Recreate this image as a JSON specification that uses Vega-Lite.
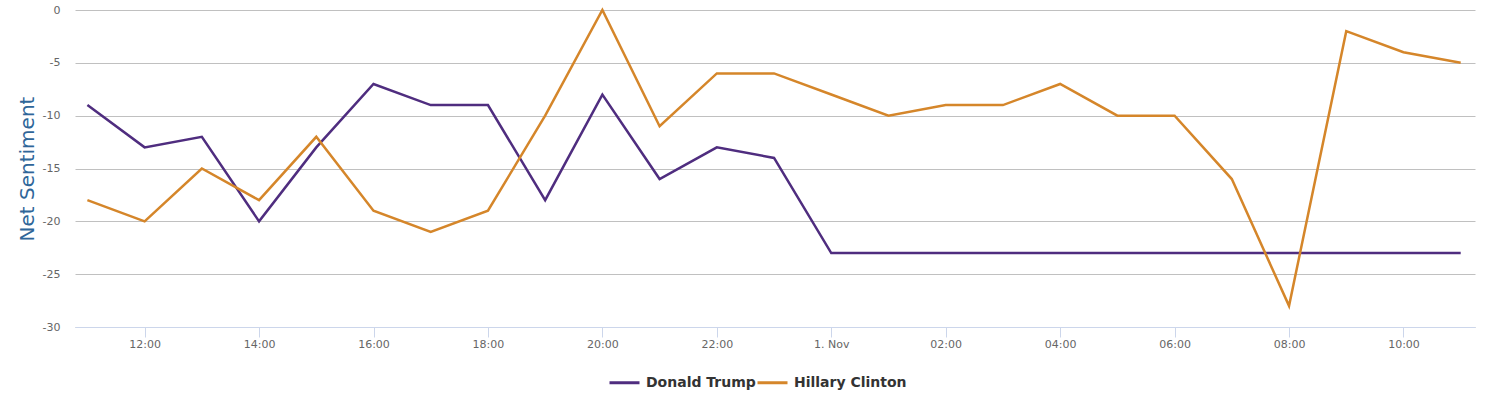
{
  "$schema": "https://vega.github.io/schema/vega-lite/v6.json",
  "autosize": "none",
  "width": 1400,
  "height": 317,
  "padding": {"left": 75, "top": 10, "right": 10, "bottom": 73},
  "background": "white",
  "data": {
    "values": [
      {"time": "2016-10-31T11:00:00", "series": "Donald Trump", "value": -9},
      {"time": "2016-10-31T12:00:00", "series": "Donald Trump", "value": -13},
      {"time": "2016-10-31T13:00:00", "series": "Donald Trump", "value": -12},
      {"time": "2016-10-31T14:00:00", "series": "Donald Trump", "value": -20},
      {"time": "2016-10-31T15:00:00", "series": "Donald Trump", "value": -13},
      {"time": "2016-10-31T16:00:00", "series": "Donald Trump", "value": -7},
      {"time": "2016-10-31T17:00:00", "series": "Donald Trump", "value": -9},
      {"time": "2016-10-31T18:00:00", "series": "Donald Trump", "value": -9},
      {"time": "2016-10-31T19:00:00", "series": "Donald Trump", "value": -18},
      {"time": "2016-10-31T20:00:00", "series": "Donald Trump", "value": -8},
      {"time": "2016-10-31T21:00:00", "series": "Donald Trump", "value": -16},
      {"time": "2016-10-31T22:00:00", "series": "Donald Trump", "value": -13},
      {"time": "2016-10-31T23:00:00", "series": "Donald Trump", "value": -14},
      {"time": "2016-11-01T00:00:00", "series": "Donald Trump", "value": -23},
      {"time": "2016-11-01T01:00:00", "series": "Donald Trump", "value": -23},
      {"time": "2016-11-01T02:00:00", "series": "Donald Trump", "value": -23},
      {"time": "2016-11-01T03:00:00", "series": "Donald Trump", "value": -23},
      {"time": "2016-11-01T04:00:00", "series": "Donald Trump", "value": -23},
      {"time": "2016-11-01T05:00:00", "series": "Donald Trump", "value": -23},
      {"time": "2016-11-01T06:00:00", "series": "Donald Trump", "value": -23},
      {"time": "2016-11-01T07:00:00", "series": "Donald Trump", "value": -23},
      {"time": "2016-11-01T08:00:00", "series": "Donald Trump", "value": -23},
      {"time": "2016-11-01T09:00:00", "series": "Donald Trump", "value": -23},
      {"time": "2016-11-01T10:00:00", "series": "Donald Trump", "value": -23},
      {"time": "2016-11-01T11:00:00", "series": "Donald Trump", "value": -23},
      {"time": "2016-10-31T11:00:00", "series": "Hillary Clinton", "value": -18},
      {"time": "2016-10-31T12:00:00", "series": "Hillary Clinton", "value": -20},
      {"time": "2016-10-31T13:00:00", "series": "Hillary Clinton", "value": -15},
      {"time": "2016-10-31T14:00:00", "series": "Hillary Clinton", "value": -18},
      {"time": "2016-10-31T15:00:00", "series": "Hillary Clinton", "value": -12},
      {"time": "2016-10-31T16:00:00", "series": "Hillary Clinton", "value": -19},
      {"time": "2016-10-31T17:00:00", "series": "Hillary Clinton", "value": -21},
      {"time": "2016-10-31T18:00:00", "series": "Hillary Clinton", "value": -19},
      {"time": "2016-10-31T19:00:00", "series": "Hillary Clinton", "value": -10},
      {"time": "2016-10-31T20:00:00", "series": "Hillary Clinton", "value": 0},
      {"time": "2016-10-31T21:00:00", "series": "Hillary Clinton", "value": -11},
      {"time": "2016-10-31T22:00:00", "series": "Hillary Clinton", "value": -6},
      {"time": "2016-10-31T23:00:00", "series": "Hillary Clinton", "value": -6},
      {"time": "2016-11-01T00:00:00", "series": "Hillary Clinton", "value": -8},
      {"time": "2016-11-01T01:00:00", "series": "Hillary Clinton", "value": -10},
      {"time": "2016-11-01T02:00:00", "series": "Hillary Clinton", "value": -9},
      {"time": "2016-11-01T03:00:00", "series": "Hillary Clinton", "value": -9},
      {"time": "2016-11-01T04:00:00", "series": "Hillary Clinton", "value": -7},
      {"time": "2016-11-01T05:00:00", "series": "Hillary Clinton", "value": -10},
      {"time": "2016-11-01T06:00:00", "series": "Hillary Clinton", "value": -10},
      {"time": "2016-11-01T07:00:00", "series": "Hillary Clinton", "value": -16},
      {"time": "2016-11-01T08:00:00", "series": "Hillary Clinton", "value": -28},
      {"time": "2016-11-01T09:00:00", "series": "Hillary Clinton", "value": -2},
      {"time": "2016-11-01T10:00:00", "series": "Hillary Clinton", "value": -4},
      {"time": "2016-11-01T11:00:00", "series": "Hillary Clinton", "value": -5}
    ]
  },
  "mark": {"type": "line", "strokeWidth": 2.5},
  "encoding": {
    "x": {
      "field": "time",
      "type": "temporal",
      "scale": {"domain": [{"year": 2016, "month": 10, "date": 31, "hours": 10, "minutes": 47}, {"year": 2016, "month": 11, "date": 1, "hours": 11, "minutes": 15}]},
      "axis": {
        "title": null,
        "format": "%H:%M",
        "labelExpr": "hours(datum.value) == 0 ? '1. Nov' : datum.label",
        "values": [
          {"year": 2016, "month": 10, "date": 31, "hours": 12},
          {"year": 2016, "month": 10, "date": 31, "hours": 14},
          {"year": 2016, "month": 10, "date": 31, "hours": 16},
          {"year": 2016, "month": 10, "date": 31, "hours": 18},
          {"year": 2016, "month": 10, "date": 31, "hours": 20},
          {"year": 2016, "month": 10, "date": 31, "hours": 22},
          {"year": 2016, "month": 11, "date": 1, "hours": 0},
          {"year": 2016, "month": 11, "date": 1, "hours": 2},
          {"year": 2016, "month": 11, "date": 1, "hours": 4},
          {"year": 2016, "month": 11, "date": 1, "hours": 6},
          {"year": 2016, "month": 11, "date": 1, "hours": 8},
          {"year": 2016, "month": 11, "date": 1, "hours": 10}
        ],
        "grid": false,
        "domainColor": "#ccd6eb",
        "tickColor": "#ccd6eb",
        "tickSize": 10,
        "labelFont": "DejaVu Sans",
        "labelFontSize": 11,
        "labelColor": "#666666",
        "labelPadding": 1
      }
    },
    "y": {
      "field": "value",
      "type": "quantitative",
      "scale": {"domain": [-30, 0], "nice": false},
      "axis": {
        "title": "Net Sentiment",
        "titleFont": "DejaVu Sans",
        "titleFontSize": 20,
        "titleFontWeight": "normal",
        "titleColor": "#2f6699",
        "titlePadding": 5,
        "values": [0, -5, -10, -15, -20, -25, -30],
        "labelExpr": "'' + datum.value",
        "domain": false,
        "ticks": false,
        "gridColor": "#c0c0c0",
        "gridWidth": 1,
        "labelFont": "DejaVu Sans",
        "labelFontSize": 11,
        "labelColor": "#666666",
        "labelPadding": 15
      }
    },
    "color": {
      "field": "series",
      "type": "nominal",
      "scale": {"domain": ["Donald Trump", "Hillary Clinton"], "range": ["#4f2d7f", "#d5862a"]},
      "legend": {
        "title": null,
        "orient": "none",
        "direction": "horizontal",
        "legendX": 533,
        "legendY": 356,
        "symbolType": "stroke",
        "symbolStrokeWidth": 3,
        "symbolSize": 900,
        "labelFont": "DejaVu Sans",
        "labelFontSize": 14,
        "labelFontWeight": "bold",
        "labelColor": "#333333",
        "columnPadding": -8,
        "labelOffset": 5
      }
    }
  },
  "config": {"view": {"stroke": null}}
}
